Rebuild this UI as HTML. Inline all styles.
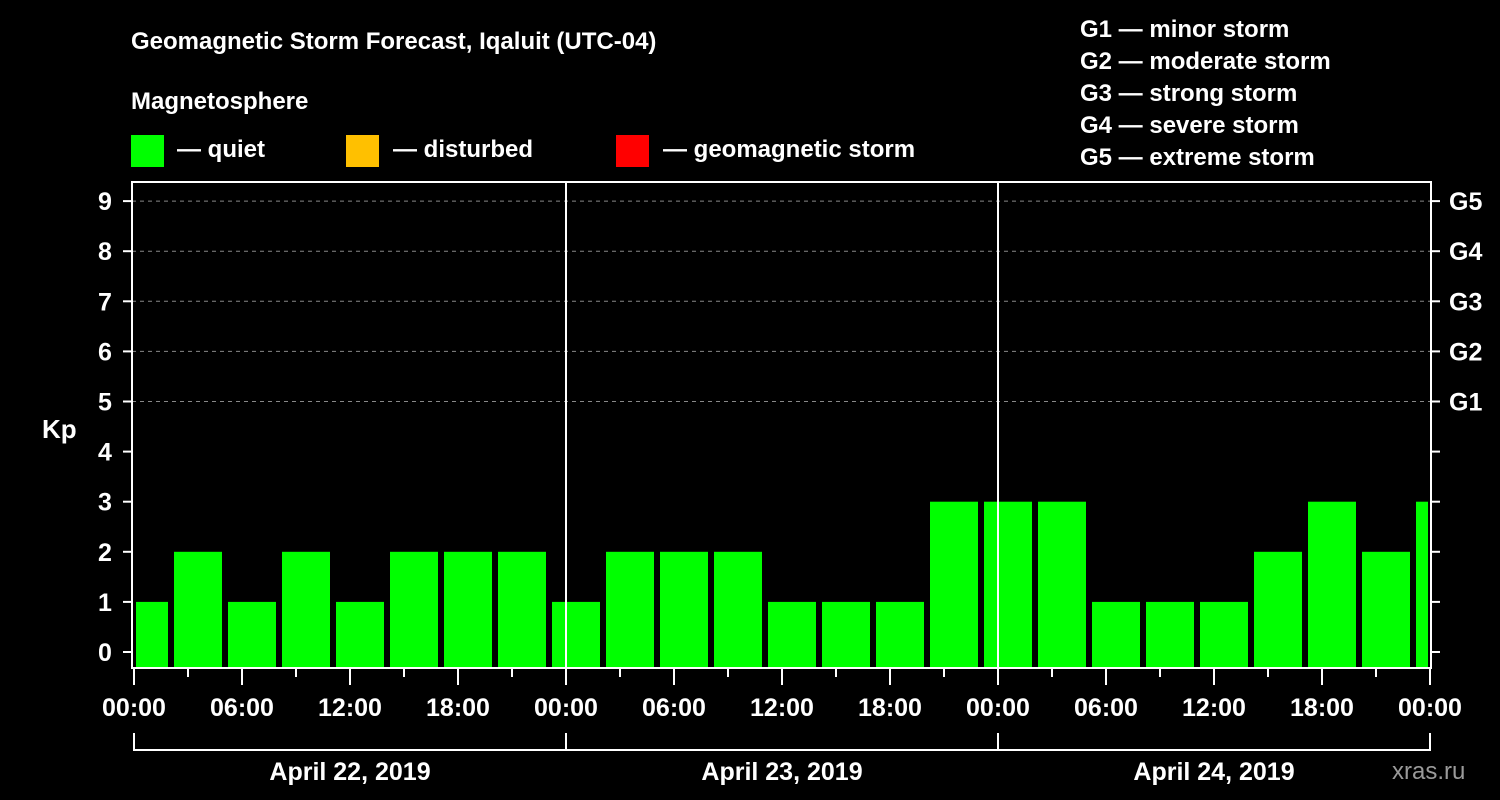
<!DOCTYPE html>
<html><head><meta charset="utf-8"><style>
html,body{margin:0;padding:0;background:#000;width:1500px;height:800px;overflow:hidden}
svg text{font-family:"Liberation Sans",sans-serif;font-weight:bold;fill:#fff}
</style></head><body>
<svg id="chart" width="1500" height="800" viewBox="0 0 1500 800">
<text x="131" y="49" font-size="24">Geomagnetic Storm Forecast, Iqaluit (UTC-04)</text>
<text x="131" y="109" font-size="24">Magnetosphere</text>
<rect x="131" y="135" width="33" height="32" fill="#00ff00"/>
<text x="177" y="157" font-size="24">— quiet</text>
<rect x="346" y="135" width="33" height="32" fill="#ffc000"/>
<text x="393" y="157" font-size="24">— disturbed</text>
<rect x="616" y="135" width="33" height="32" fill="#ff0000"/>
<text x="663" y="157" font-size="24">— geomagnetic storm</text>
<g font-size="24">
<text x="1080" y="37">G1 — minor storm</text>
<text x="1080" y="69">G2 — moderate storm</text>
<text x="1080" y="101">G3 — strong storm</text>
<text x="1080" y="133">G4 — severe storm</text>
<text x="1080" y="165">G5 — extreme storm</text>
</g>
<text x="42" y="438" font-size="26">Kp</text>
<text x="1392" y="779" font-size="24" style="fill:#9a9a9a;font-weight:normal">xras.ru</text>
<g id="grid"></g><g id="bars"></g><g id="axes"></g>
</svg>
<script>
const kpValues=[1,2,1,2,1,2,2,2,1,2,2,2,1,1,1,3,3,3,1,1,1,2,3,2,3];
const startHour=-1; // first bar starts 23:00 previous day (local)
const dayLabels=["April 22, 2019","April 23, 2019","April 24, 2019"];
const yTicks=[0,1,2,3,4,5,6,7,8,9];
const gLabels=["G1","G2","G3","G4","G5"];
const gLevels=[5,6,7,8,9];
const xLabels=["00:00","06:00","12:00","18:00"];

const NS="http://www.w3.org/2000/svg";
const X0=134,PX_H=18,TOTAL_H=72,L=132,R=1431,T=182,B=668;
const x=h=>X0+h*PX_H;
const y=v=>652-v*50.1;
function mk(tag,attrs,parent){const e=document.createElementNS(NS,tag);for(const k in attrs)e.setAttribute(k,attrs[k]);parent.appendChild(e);return e;}
const grid=document.getElementById('grid'),bars=document.getElementById('bars'),axes=document.getElementById('axes');
gLevels.forEach(v=>{
  const l=mk('line',{x1:L,x2:R,y1:y(v),y2:y(v),stroke:'#888','stroke-width':1,'stroke-dasharray':'4,4'},grid);
  
  
});
kpValues.forEach((v,i)=>{
  let a=x(startHour+i*3)+4,b=x(startHour+i*3+3)-2;
  a=Math.max(a,L+4);b=Math.min(b,R-3);
  const r=mk('rect',{x:a,y:y(v),width:b-a,height:B-y(v),fill:v>=5?'#ff0000':(v>=4?'#ffc000':'#00ff00')},bars);
  
  
});
[1,2].forEach(d=>{
  const l=mk('line',{x1:x(d*24),x2:x(d*24),y1:T,y2:B,stroke:'#fff','stroke-width':2},axes);
  
  
});
const frame=mk('rect',{x:L,y:T,width:R-L,height:B-T,fill:'none',stroke:'#fff','stroke-width':2},axes);


yTicks.forEach(v=>{
  mk('line',{x1:L-9,x2:L,y1:y(v),y2:y(v),stroke:'#fff','stroke-width':2},axes);
  mk('line',{x1:R,x2:R+9,y1:y(v),y2:y(v),stroke:'#fff','stroke-width':2},axes);
  const t=mk('text',{x:105,y:y(v)+9,'font-size':25,'text-anchor':'middle'},axes);
  t.textContent=v;
  
  
});
gLevels.forEach((v,i)=>{
  const t=mk('text',{x:1449,y:y(v)+9,'font-size':25},axes);
  t.textContent=gLabels[i];
  
  
});
for(let h=0;h<=TOTAL_H;h+=3){
  const major=h%6===0;
  mk('line',{x1:x(h),x2:x(h),y1:B,y2:major?B+17:B+9,stroke:'#fff','stroke-width':2},axes);
  if(major && (h%24)%6===0 && (h%24===0 || true)){
    if(h%6===0 && (h%24)<24){
      const t=mk('text',{x:x(h),y:716,'font-size':25,'text-anchor':'middle'},axes);
      t.textContent=(h===TOTAL_H)?"00:00":xLabels[(h%24)/6];
      
      
    }
  }
}
mk('line',{x1:x(0),x2:x(TOTAL_H),y1:750,y2:750,stroke:'#fff','stroke-width':2},axes);
for(let d=0;d<=3;d++) mk('line',{x1:x(d*24),x2:x(d*24),y1:733,y2:751,stroke:'#fff','stroke-width':2},axes);
dayLabels.forEach((s,d)=>{
  const t=mk('text',{x:x(d*24+12),y:780,'font-size':25,'text-anchor':'middle'},axes);
  t.textContent=s;
  
  
});
</script>
</body></html>
